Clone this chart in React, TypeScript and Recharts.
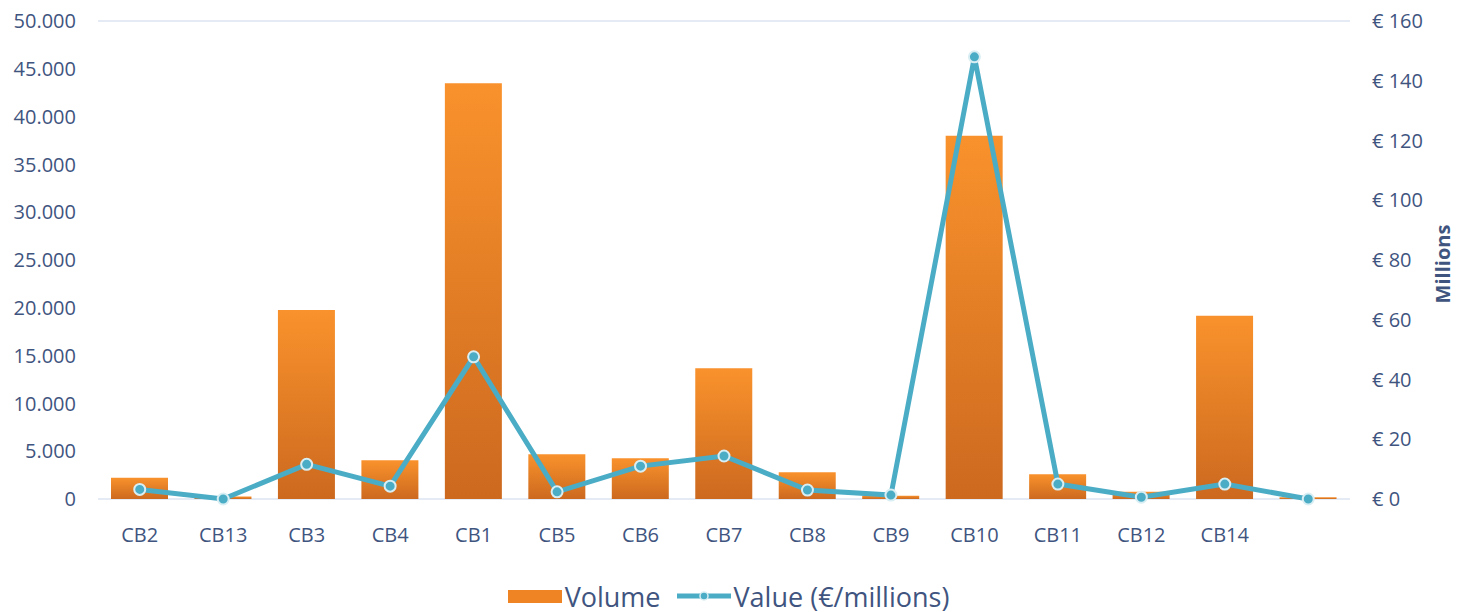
import {
  Bar,
  CartesianGrid,
  ComposedChart,
  Legend,
  Line,
  XAxis,
  YAxis,
} from "recharts";

const categories = ["CB2", "CB13", "CB3", "CB4", "CB1", "CB5", "CB6", "CB7", "CB8", "CB9", "CB10", "CB11", "CB12", "CB14", ""];
const volume = [2230, 250, 19770, 4050, 43480, 4680, 4260, 13670, 2790, 350, 38000, 2580, 760, 19170, 180];
const valueMillions = [3.2, 0, 11.6, 4.3, 47.6, 2.4, 11, 14.4, 3.0, 1.3, 148, 5, 0.6, 5, 0];
const leftTicks = [0, 5000, 10000, 15000, 20000, 25000, 30000, 35000, 40000, 45000, 50000];
const rightTicks = [0, 20, 40, 60, 80, 100, 120, 140, 160];

const rows = categories.map((name, i) => ({
  name,
  Volume: volume[i],
  Value: valueMillions[i],
}));

const FONT = "'Open Sans', sans-serif";
const INK = "#3f5580";
const TEAL = "#4bacc6";
const ORANGE = "#ee8424";
const GRID = "#dbe4f1";

const tick = { fontSize: 20, fill: INK, fontFamily: FONT };
const dotFmt = (v: number) => v.toLocaleString("de-DE");

function ChartLegend() {
  return (
    <div
      style={{
        display: "flex",
        justifyContent: "center",
        alignItems: "center",
        gap: 16,
        fontFamily: FONT,
        fontSize: 27,
        color: INK,
        height: 44,
        paddingTop: 6,
      }}
    >
      <span style={{ display: "flex", alignItems: "center", gap: 3 }}>
        <span style={{ display: "inline-block", width: 54, height: 13, background: ORANGE }} />
        Volume
      </span>
      <span style={{ display: "flex", alignItems: "center", gap: 3 }}>
        <svg width={54} height={14}>
          <line x1={0} y1={7} x2={54} y2={7} stroke={TEAL} strokeWidth={5} />
          <circle cx={27} cy={7} r={4} fill={TEAL} stroke="#d8eef3" strokeWidth={1.5} />
        </svg>
        Value (€/millions)
      </span>
    </div>
  );
}

export default function App() {
  return (
    <div style={{ position: "absolute", left: 0, top: 0 }}>
      <ComposedChart
        width={1457}
        height={612}
        data={rows}
        margin={{ top: 21, right: 0, left: 0, bottom: 0 }}
      >
        <defs>
          <linearGradient id="volGrad" x1="0" y1="0" x2="0" y2="1">
            <stop offset="0%" stopColor="#f9922c" />
            <stop offset="100%" stopColor="#cc691f" />
          </linearGradient>
        </defs>
        <CartesianGrid stroke={GRID} strokeWidth={1.5} vertical={false} />
        <XAxis
          dataKey="name"
          tick={tick}
          tickLine={false}
          axisLine={false}
          tickMargin={23}
          height={69}
          interval={0}
        />
        <YAxis
          yAxisId="left"
          domain={[0, 50000]}
          ticks={leftTicks}
          tickFormatter={dotFmt}
          tick={tick}
          tickLine={false}
          axisLine={false}
          tickMargin={16}
          width={98}
        />
        <YAxis
          yAxisId="right"
          orientation="right"
          domain={[0, 160]}
          ticks={rightTicks}
          tickFormatter={(v: number) => "€ " + v}
          tick={{ ...tick, textAnchor: "start" }}
          tickLine={false}
          axisLine={false}
          tickMargin={16}
          width={107}
          label={{
            value: "Millions",
            content: ({ viewBox }: any) => {
              const x = viewBox.x + 100;
              const y = viewBox.y + viewBox.height / 2 + 4;
              return (
                <text
                  x={x}
                  y={y}
                  transform={`rotate(-90, ${x}, ${y})`}
                  textAnchor="middle"
                  fontFamily={FONT}
                  fontWeight="bold"
                  fontSize={20}
                  fill={INK}
                >
                  Millions
                </text>
              );
            },
          }}
        />
        <Legend verticalAlign="bottom" content={() => <ChartLegend />} wrapperStyle={{ height: 44 }} />
        <Bar
          yAxisId="left"
          dataKey="Volume"
          fill="url(#volGrad)"
          barSize={57}
          isAnimationActive={false}
        />
        <Line
          yAxisId="right"
          dataKey="Value"
          type="linear"
          stroke={TEAL}
          strokeWidth={5}
          dot={{ r: 5.5, fill: TEAL, stroke: "#d8eef3", strokeWidth: 2 }}
          isAnimationActive={false}
        />
      </ComposedChart>
    </div>
  );
}
